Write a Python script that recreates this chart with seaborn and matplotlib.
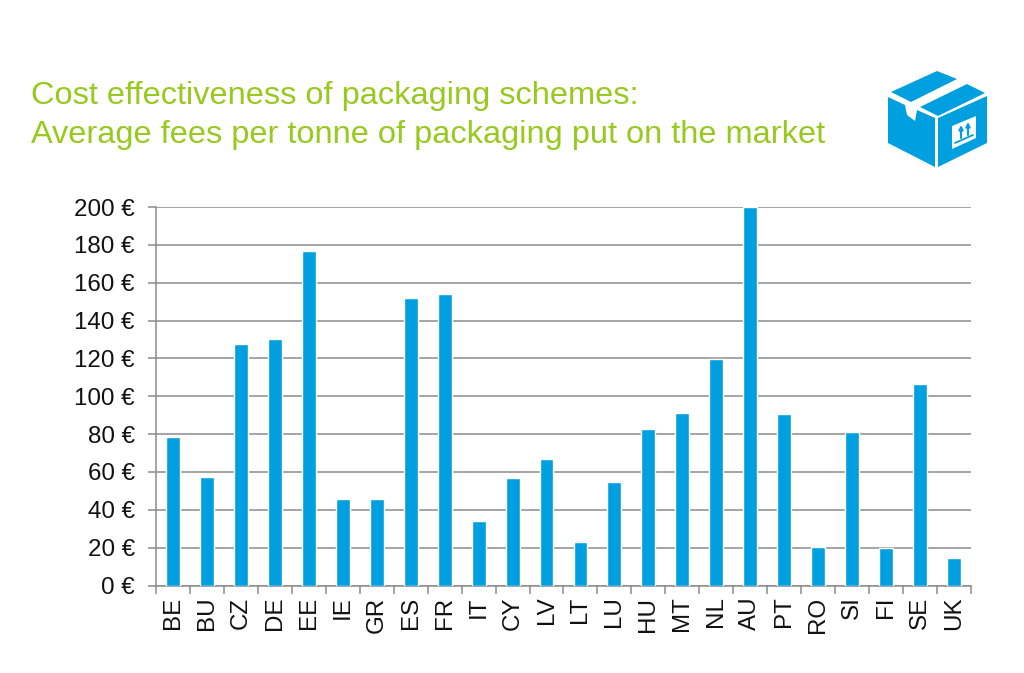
import seaborn as sns
import matplotlib.pyplot as plt
from matplotlib.patches import Polygon
import pandas as pd

# Values
countries = ['BE', 'BU', 'CZ', 'DE', 'EE', 'IE', 'GR', 'ES', 'FR', 'IT', 'CY', 'LV',
             'LT', 'LU', 'HU', 'MT', 'NL', 'AU', 'PT', 'RO', 'SI', 'FI', 'SE', 'UK']
fees = [78.5, 57.5, 127.5, 130.5, 177, 45.5, 45.5, 152, 154, 34, 57, 67,
        23, 54.5, 82.5, 91, 119.5, 200, 90.5, 20.5, 81, 20, 106.5, 14.5]
y_ticks = [0, 20, 40, 60, 80, 100, 120, 140, 160, 180, 200]
title_lines = ['Cost effectiveness of packaging schemes:',
               'Average fees per tonne of packaging put on the market']

BLUE = '#009FDF'
GREEN = '#97C91E'
GREY = '#8C8C8C'
W, H = 1024, 673

df = pd.DataFrame({'country': countries, 'fee': fees})

sns.set_style("white")
plt.rcParams['font.family'] = ['Liberation Sans', 'DejaVu Sans']

fig = plt.figure(figsize=(W / 100, H / 100), dpi=100)
ax = fig.add_axes([156 / W, 1 - 585.5 / H, (971 - 156) / W, (585.5 - 207) / H])

sns.barplot(data=df, x='country', y='fee', color=BLUE, width=0.41, saturation=1, ax=ax, zorder=3)

ax.set_xlim(-0.5, len(countries) - 0.5)
ax.set_ylim(0, 200)
ax.set_xlabel('')
ax.set_ylabel('')
ax.set_yticks(y_ticks)
ax.set_yticklabels([f'{v} €' for v in y_ticks], fontsize=17.4, color='#111111')
ax.grid(True, axis='y', color=GREY, linewidth=1.1, zorder=1)
ax.set_axisbelow(True)

# Ticks sit between the categories, as in the original
ax.set_xticks([i - 0.5 for i in range(len(countries) + 1)], minor=True)
ax.set_xticks(range(len(countries)))
ax.set_xticklabels(countries, rotation=90, fontsize=17.4, color='#111111')
ax.tick_params(axis='x', which='major', length=0, pad=8)
ax.tick_params(axis='x', which='minor', length=5.8, width=1.1, color=GREY, bottom=True)
ax.tick_params(axis='y', length=5.8, width=1.1, color=GREY, left=True, pad=9.5)

sns.despine(ax=ax, top=True, right=True)
for side in ['left', 'bottom']:
    ax.spines[side].set_color(GREY)
    ax.spines[side].set_linewidth(1.1)

# Overlay in pixel coordinates for title and icon
ov = fig.add_axes([0, 0, 1, 1], facecolor='none')
ov.set_xlim(0, W)
ov.set_ylim(H, 0)
ov.axis('off')

ov.text(31, 96, title_lines[0], color=GREEN, fontsize=23.4, va='center', ha='left')
ov.text(31, 135, title_lines[1], color=GREEN, fontsize=23.4, va='center', ha='left')

# Box icon
icon_blue = [
    [(891, 92), (937, 71), (957, 79), (911, 102)],
    [(920, 107), (967, 84), (985, 93), (938, 116)],
    [(888, 97), (905, 105), (907, 115), (915, 121), (917, 110), (935, 118), (935, 167), (888, 143)],
    [(938, 118), (987, 96), (987, 143), (938, 167)],
]
for pts in icon_blue:
    ov.add_patch(Polygon(pts, closed=True, facecolor=BLUE, edgecolor='none'))
ov.add_patch(Polygon([(952, 126), (976, 116), (976, 138), (952, 149)], closed=True,
                     facecolor='white', edgecolor='none'))
ov.plot([955, 973], [143, 135], color=BLUE, lw=1.3)
for x, y in [(961, 131), (968, 128)]:
    ov.annotate('', xy=(x, y - 6), xytext=(x, y + 7),
                arrowprops=dict(arrowstyle='-|>', color=BLUE, lw=1.5, mutation_scale=6, shrinkA=0, shrinkB=0))

fig.savefig('out.png', dpi=100)
